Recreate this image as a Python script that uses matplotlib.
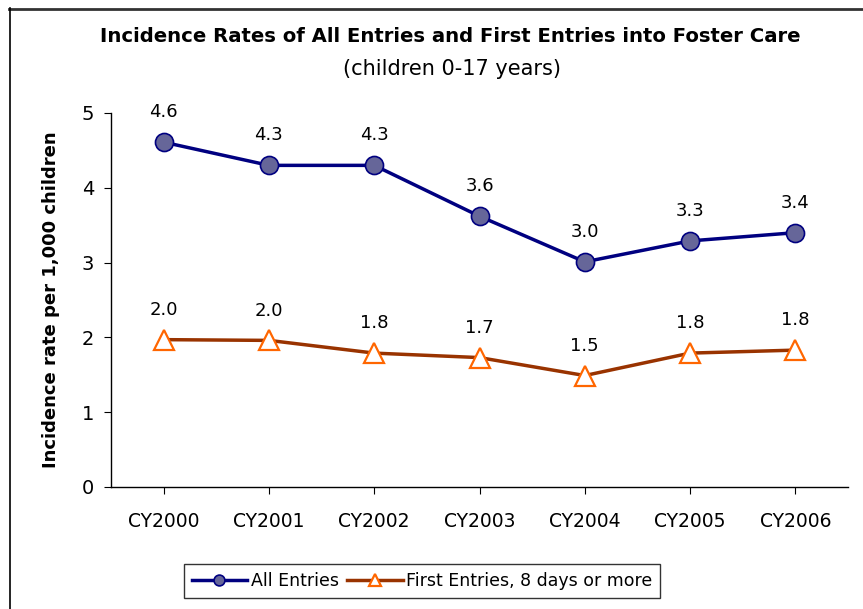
import matplotlib
matplotlib.use("Agg")
import matplotlib.pyplot as plt
from matplotlib.lines import Line2D

categories = ["CY2000", "CY2001", "CY2002", "CY2003", "CY2004", "CY2005", "CY2006"]
all_entries = [4.61, 4.30, 4.30, 3.62, 3.01, 3.29, 3.40]
first_entries = [1.97, 1.96, 1.79, 1.73, 1.49, 1.79, 1.83]
yticks = [0, 1, 2, 3, 4, 5]

plt.rcParams['font.family'] = ['DejaVu Sans']

W, H = 863, 609
fig = plt.figure(figsize=(W / 100, H / 100), dpi=100)
# partial frame: top and left edges
fig.add_artist(Line2D([9 / W, 1.0], [1 - 8.5 / H, 1 - 8.5 / H], transform=fig.transFigure,
                      color="#333333", linewidth=2.0))
fig.add_artist(Line2D([9.5 / W, 9.5 / W], [0.0, 1 - 8 / H], transform=fig.transFigure,
                      color="black", linewidth=1.2))

ax = fig.add_axes([111 / W, 1 - 487 / H, 737 / W, 374 / H])

x = list(range(len(categories)))
ax.plot(x, all_entries, color="#000080", linewidth=2.5, marker="o", markersize=13,
        markerfacecolor="#666699", markeredgecolor="#000080", markeredgewidth=1.2,
        label="All Entries", zorder=3)
ax.plot(x, first_entries, color="#993300", linewidth=2.5, marker="^", markersize=14,
        markerfacecolor="white", markeredgecolor="#FF6600", markeredgewidth=1.6,
        label="First Entries, 8 days or more", zorder=3)

for xi, v in zip(x, all_entries):
    ax.annotate(f"{v:.1f}", (xi, v), xytext=(0, 21.5), textcoords="offset points",
                ha="center", va="center", fontsize=13)
for xi, v in zip(x, first_entries):
    ax.annotate(f"{v:.1f}", (xi, v), xytext=(0, 21.5), textcoords="offset points",
                ha="center", va="center", fontsize=13)

ax.set_xlim(-0.5, len(categories) - 0.5)
ax.set_ylim(0, 5)
ax.set_yticks(yticks)
ax.set_yticklabels([str(t) for t in yticks], fontsize=14)
ax.set_xticks(x)
ax.set_xticklabels(categories, fontsize=13.5)
ax.tick_params(axis="x", length=5, pad=13, color="black")
ax.tick_params(axis="y", length=5, pad=7, color="black")
for s in ["top", "right"]:
    ax.spines[s].set_visible(False)
for s in ["left", "bottom"]:
    ax.spines[s].set_color("black")
    ax.spines[s].set_linewidth(1.0)

ax.set_ylabel("Incidence rate per 1,000 children", fontsize=13, fontweight="bold", labelpad=16)

fig.text(450 / W, 1 - 37 / H, "Incidence Rates of All Entries and First Entries into Foster Care",
         ha="center", va="center", fontsize=14.1, fontweight="bold")
fig.text(452 / W, 1 - 69 / H, "(children 0-17 years)", ha="center", va="center",
         fontsize=15)

leg = fig.legend(loc="center", bbox_to_anchor=(422 / W, 1 - 581 / H), ncol=2, fontsize=12.5,
                 frameon=True, fancybox=False, edgecolor="black", handlelength=3.2,
                 columnspacing=0.5, handletextpad=0.2, borderpad=0.45, borderaxespad=0,
                 markerscale=0.6)
leg.get_frame().set_linewidth(1.0)

fig.savefig("out.png", dpi=100)
